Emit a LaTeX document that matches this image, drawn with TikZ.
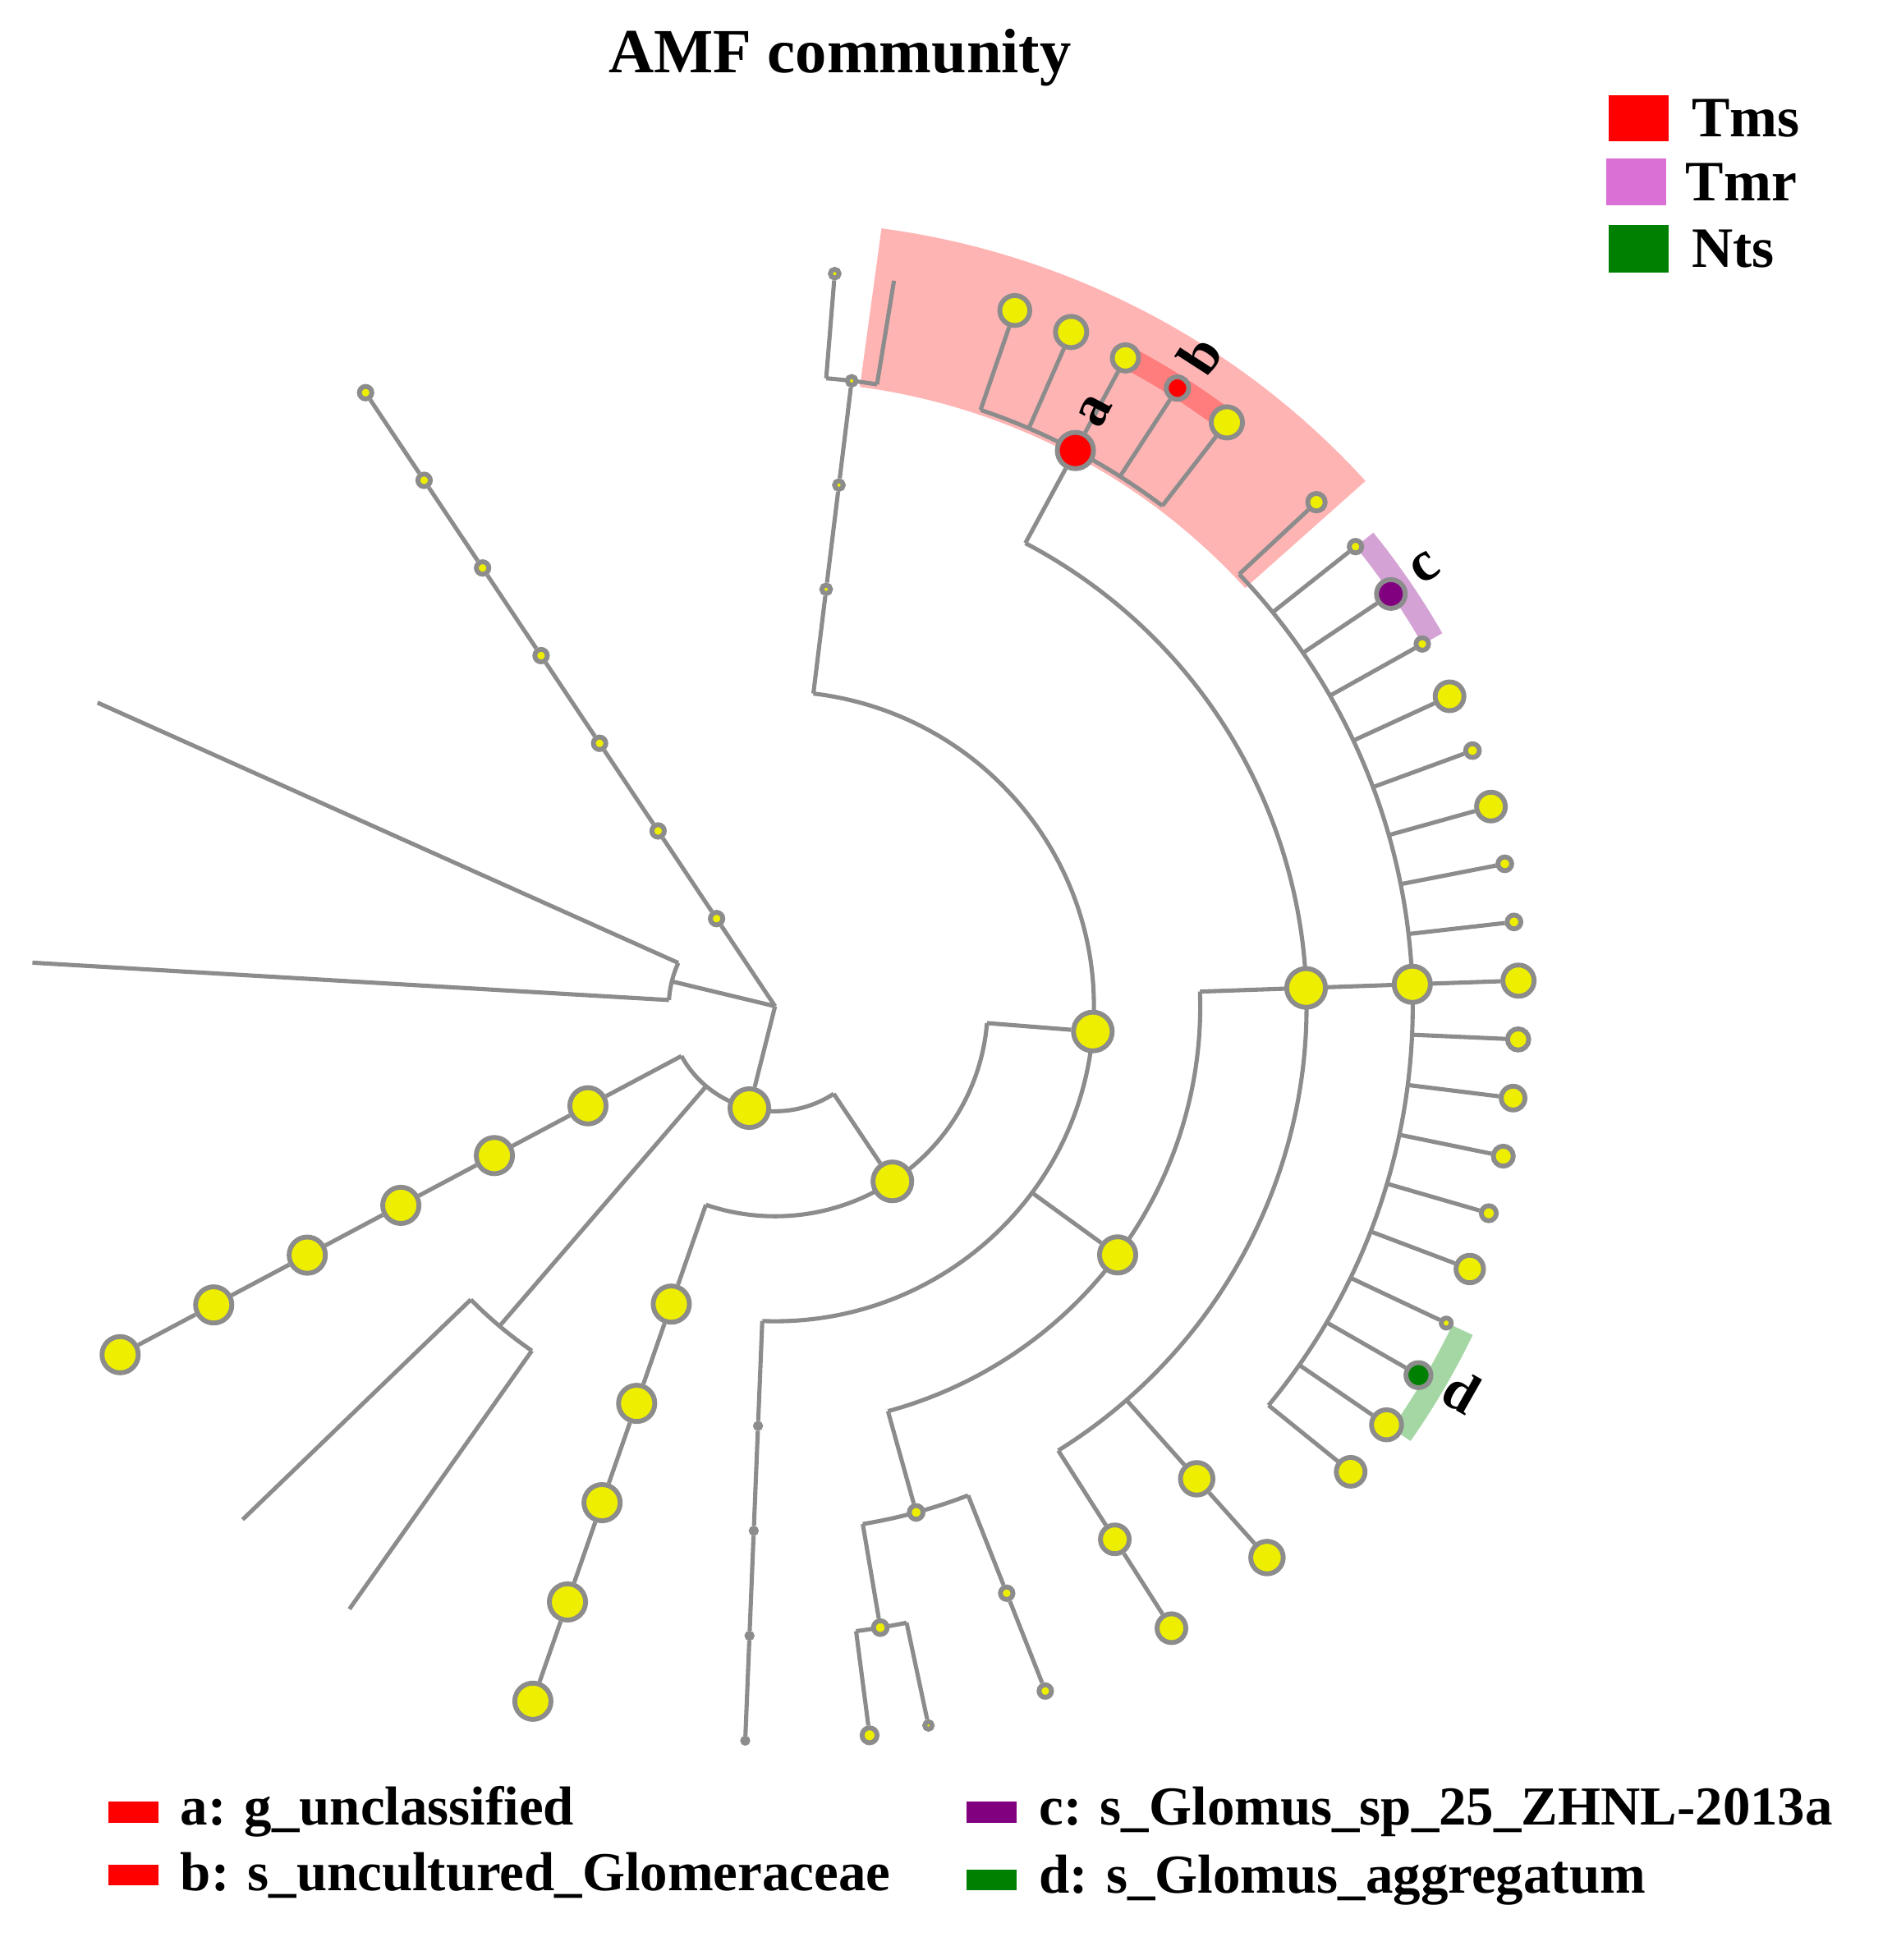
\documentclass[tikz,border=0pt]{standalone}
\usepackage{fontspec}
\setmainfont{Liberation Serif}
\usetikzlibrary{positioning,backgrounds}

\definecolor{lineg}{RGB}{140,140,140}
\definecolor{nodey}{RGB}{238,238,0}
\definecolor{tmsred}{RGB}{255,0,0}
\definecolor{tmrpink}{RGB}{218,112,214}
\definecolor{ntsgreen}{RGB}{0,128,0}
\definecolor{cpurple}{RGB}{128,0,128}
\definecolor{tmsshade}{RGB}{255,180,180}
\definecolor{bshade}{RGB}{255,125,125}
\definecolor{cshade}{RGB}{212,162,212}
\definecolor{dshade}{RGB}{165,215,165}

\begin{document}
\begin{tikzpicture}[
  branch/.style={draw=lineg, line width=0.95pt},
  cl/.style={circle, draw=lineg, line width=1.1pt, fill=nodey, inner sep=0pt, minimum size=#1},
  lbl/.style={font=\fontsize{13}{15}\selectfont\bfseries, inner sep=0pt},
  legbig/.style={font=\fontsize{13}{15}\selectfont\bfseries, inner sep=0pt},
  legsmall/.style={font=\fontsize{12.5}{15}\selectfont\bfseries, inner sep=0pt},
  keybox/.style={inner sep=0pt, minimum width=#1},
]
\useasboundingbox (0,0) rectangle (15.13,-15.68);

% title and legends
\node[font=\fontsize{14.3}{17}\selectfont\bfseries, anchor=base] (title) at (6.72,-0.58) {AMF community};

\node[keybox=4.8mm, minimum height=3.7mm, fill=tmsred] (kms) at (13.11,-0.945) {};
\node[legbig, right=1.7mm of kms] (tms) {Tms};
\node[keybox=4.8mm, minimum height=3.7mm, fill=tmrpink] (kmr) at (13.09,-1.455) {};
\node[legbig, right=1.4mm of kmr] (tmr) {Tmr};
\node[keybox=4.8mm, minimum height=3.8mm, fill=ntsgreen] (kts) at (13.11,-1.99) {};
\node[legbig, right=1.7mm of kts] (nts) {Nts};

\node[keybox=4mm, minimum height=1.7mm, fill=tmsred] (ka) at (1.07,-14.495) {};
\node[legsmall, right=1.6mm of ka] (ta) {a: g\_unclassified};
\node[keybox=4mm, minimum height=1.6mm, fill=tmsred] (kb) at (1.07,-15.00) {};
\node[legsmall, right=1.6mm of kb] (tb) {b: s\_uncultured\_Glomeraceae};
\node[keybox=4mm, minimum height=1.7mm, fill=cpurple] (kc) at (7.93,-14.495) {};
\node[legsmall, right=1.7mm of kc] (tc) {c: s\_Glomus\_sp\_25\_ZHNL-2013a};
\node[keybox=4mm, minimum height=1.6mm, fill=ntsgreen] (kd) at (7.93,-15.04) {};
\node[legsmall, right=1.7mm of kd] (td) {d: s\_Glomus\_aggregatum};

\begin{scope}[shift={(6.20,-8.05)}, xscale=1.012]
% branch points on the arcs
\coordinate (root) at (0,0);
\coordinate (j1) at (166.3:0.84);
\coordinate (j1a) at (155.6:0.84);
\coordinate (j1b) at (176.6:0.84);
\coordinate (j1at) at (155.6:5.88);
\coordinate (j1bt) at (176.6:5.88);
\coordinate (n1a) at (-151.7:0.84);
\coordinate (n1b) at (-130.4:0.84);
\coordinate (n1c) at (-56.5:0.84);
\coordinate (j4) at (-130.4:3.36);
\coordinate (j4a) at (-135.7:3.36);
\coordinate (j4b) at (-124.9:3.36);
\coordinate (j4at) at (-135.7:5.88);
\coordinate (j4bt) at (-124.9:5.88);
\coordinate (n2a) at (-4.6:1.68);
\coordinate (n2b) at (-109:1.68);
\coordinate (n3a) at (83.1:2.52);
\coordinate (n3b) at (-36.3:2.52);
\coordinate (n3c) at (-92.3:2.52);
\coordinate (f6a) at (85.4:5.04);
\coordinate (f6b) at (80.8:5.04);
\coordinate (f7x) at (80.8:5.88);
\coordinate (n4a) at (2:3.36);
\coordinate (n4b) at (-74.6:3.36);
\coordinate (h5a) at (-80.5:4.20);
\coordinate (h5b) at (-68.7:4.20);
\coordinate (h6aa) at (-82.7:5.04);
\coordinate (h6ab) at (-78.1:5.04);
\coordinate (n5a) at (61.9:4.20);
\coordinate (n5c) at (-48.6:4.20);
\coordinate (n5d) at (-57.8:4.20);
\coordinate (ga1) at (71.2:5.04);
\coordinate (ga2) at (66.55:5.04);
\coordinate (ga4) at (57.25:5.04);
\coordinate (ga5) at (52.6:5.04);

% clades
\node[cl=3.1mm] (n1) at (-104:0.84) {};
\node[cl=3.1mm] (n2) at (-56.5:1.68) {};
\node[cl=3.1mm] (n3) at (-4.6:2.52) {};
\node[cl=2.9mm] (n4) at (-36.3:3.36) {};
\node[cl=3.1mm] (n5) at (2:4.20) {};
\node[cl=2.9mm] (n6) at (2:5.04) {};
\node[cl=2.9mm, fill=tmsred] (ga) at (61.9:5.04) {};

\foreach \k in {1,...,7}
  \node[cl=1.0mm] (c\k) at (123.4:{0.84*\k}) {};
\foreach \k in {2,...,7}
  \node[cl=2.9mm] (d\k) at (-151.7:{0.84*\k}) {};
\foreach \k in {3,...,7}
  \node[cl=2.9mm] (e\k) at (-109:{0.84*\k}) {};
\foreach \k in {4,...,6}
  \node[cl=0.7mm] (f\k) at (83.1:{0.84*\k}) {};
\node[cl=0.7mm] (f7) at (85.4:5.88) {};
\foreach \k in {4,...,7}
  \node[cl=0.4mm] (g\k) at (-92.3:{0.84*\k}) {};

\node[cl=1.1mm] (h5) at (-74.6:4.20) {};
\node[cl=1.1mm] (h6a) at (-80.5:5.04) {};
\node[cl=1.2mm] (h7a) at (-82.7:5.88) {};
\node[cl=0.6mm] (h7b) at (-78.1:5.88) {};
\node[cl=1.0mm] (h6b) at (-68.7:5.04) {};
\node[cl=1.0mm] (h7c) at (-68.7:5.88) {};
\node[cl=2.6mm] (k6) at (-48.6:5.04) {};
\node[cl=2.6mm] (k7) at (-48.6:5.88) {};
\node[cl=2.3mm] (m6) at (-57.8:5.04) {};
\node[cl=2.3mm] (m7) at (-57.8:5.88) {};

\node[cl=2.4mm] (s1) at (71.2:5.88) {};
\node[cl=2.5mm] (s2) at (66.55:5.88) {};
\node[cl=2.1mm] (s3) at (61.9:5.88) {};
\node[cl=1.8mm, fill=tmsred] (sb) at (57.25:5.88) {};
\node[cl=2.5mm] (s5) at (52.6:5.88) {};

\foreach \i/\s/\f in {1/1.4/nodey, 2/1.0/nodey, 3/2.3/cpurple, 4/1.0/nodey,
    5/2.3/nodey, 6/1.1/nodey, 7/2.3/nodey, 8/1.1/nodey, 9/1.1/nodey,
    10/2.5/nodey, 11/1.7/nodey, 12/1.9/nodey, 13/1.6/nodey, 14/1.2/nodey,
    15/2.2/nodey, 16/0.8/nodey, 17/2.0/ntsgreen, 18/2.4/nodey, 19/2.3/nodey}{
  \pgfmathsetmacro{\ang}{43.3-4.589*(\i-1)}
  \coordinate (q\i) at (\ang:5.04);
  \node[cl=\s mm, fill=\f] (r\i) at (\ang:5.88) {};
}

% biomarker labels
\node[lbl, rotate=62] (la) at (62:5.39) {a};
\node[lbl, rotate=57.2] (lb) at (57.2:6.20) {b};
\node[lbl, rotate=34.3] (lc) at (34.3:6.22) {c};
\node[lbl, rotate=-29.6] (ld) at (-29.6:6.24) {d};

\begin{pgfonlayer}{background}
% shaded clades
\fill[tmsshade] (82.3:5.00) arc[start angle=82.3, end angle=42, radius=5.00]
  -- (42:6.28) arc[start angle=42, end angle=82.3, radius=6.28] -- cycle;
\fill[bshade] (61.9:5.80) arc[start angle=61.9, end angle=52.6, radius=5.80]
  -- (52.6:5.98) arc[start angle=52.6, end angle=61.9, radius=5.98] -- cycle;
\fill[cshade] (38.7:5.88) arc[start angle=38.7, end angle=29.5, radius=5.88]
  -- (29.5:6.06) arc[start angle=29.5, end angle=38.7, radius=6.06] -- cycle;
\fill[dshade] (-25.5:5.93) arc[start angle=-25.5, end angle=-34.7, radius=5.93]
  -- (-34.7:6.11) arc[start angle=-34.7, end angle=-25.5, radius=6.11] -- cycle;

% tree
\draw[branch] (root) -- (c1) -- (c2) -- (c3) -- (c4) -- (c5) -- (c6) -- (c7);
\draw[branch] (root) -- (j1);
\draw[branch] (j1a) arc[start angle=155.6, end angle=176.6, radius=0.84];
\draw[branch] (j1a) -- (j1at);
\draw[branch] (j1b) -- (j1bt);
\draw[branch] (root) -- (n1);

\draw[branch] (n1a) arc[start angle=-151.7, end angle=-56.5, radius=0.84];
\draw[branch] (n1a) -- (d2) -- (d3) -- (d4) -- (d5) -- (d6) -- (d7);
\draw[branch] (n1b) -- (j4);
\draw[branch] (j4a) arc[start angle=-135.7, end angle=-124.9, radius=3.36];
\draw[branch] (j4a) -- (j4at);
\draw[branch] (j4b) -- (j4bt);
\draw[branch] (n1c) -- (n2);

\draw[branch] (n2a) arc[start angle=-4.6, end angle=-109, radius=1.68];
\draw[branch] (n2a) -- (n3);
\draw[branch] (n2b) -- (e3) -- (e4) -- (e5) -- (e6) -- (e7);

\draw[branch] (n3a) arc[start angle=83.1, end angle=-92.3, radius=2.52];
\draw[branch] (n3a) -- (f4) -- (f5) -- (f6);
\draw[branch] (f6a) arc[start angle=85.4, end angle=80.8, radius=5.04];
\draw[branch] (f6a) -- (f7);
\draw[branch] (f6b) -- (f7x);
\draw[branch] (n3b) -- (n4);
\draw[branch] (n3c) -- (g4) -- (g5) -- (g6) -- (g7);

\draw[branch] (n4a) arc[start angle=2, end angle=-74.6, radius=3.36];
\draw[branch] (n4a) -- (n5);
\draw[branch] (n4b) -- (h5);
\draw[branch] (h5a) arc[start angle=-80.5, end angle=-68.7, radius=4.20];
\draw[branch] (h5a) -- (h6a);
\draw[branch] (h5b) -- (h6b) -- (h7c);
\draw[branch] (h6aa) arc[start angle=-82.7, end angle=-78.1, radius=5.04];
\draw[branch] (h6aa) -- (h7a);
\draw[branch] (h6ab) -- (h7b);

\draw[branch] (n5a) arc[start angle=61.9, end angle=-57.8, radius=4.20];
\draw[branch] (n5a) -- (ga);
\draw[branch] (n5) -- (n6);
\draw[branch] (n5c) -- (k6) -- (k7);
\draw[branch] (n5d) -- (m6) -- (m7);

\draw[branch] (ga1) arc[start angle=71.2, end angle=52.6, radius=5.04];
\draw[branch] (ga1) -- (s1);
\draw[branch] (ga2) -- (s2);
\draw[branch] (ga) -- (s3);
\draw[branch] (ga4) -- (sb);
\draw[branch] (ga5) -- (s5);

\draw[branch] (q1) arc[start angle=43.3, end angle=-39.3, radius=5.04];
\foreach \i in {1,...,19}
  \draw[branch] (q\i) -- (r\i);
\end{pgfonlayer}
\end{scope}
\end{tikzpicture}
\end{document}
